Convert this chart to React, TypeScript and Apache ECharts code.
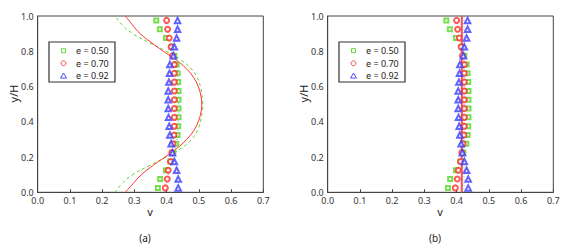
import React, { useEffect, useRef } from "react";
import * as echarts from "echarts";

// Measured points (both panels share them)
const yPoints = [0.025, 0.075, 0.125, 0.175, 0.225, 0.275, 0.325, 0.375, 0.425, 0.475, 0.525, 0.575, 0.625, 0.675, 0.725, 0.775, 0.825, 0.875, 0.925, 0.975];
const vE050 = [0.373, 0.380, 0.398, 0.412, 0.421, 0.430, 0.434, 0.436, 0.437, 0.437, 0.437, 0.437, 0.436, 0.434, 0.431, 0.424, 0.416, 0.398, 0.379, 0.368];
const vE070 = [0.396, 0.402, 0.405, 0.412, 0.416, 0.420, 0.423, 0.424, 0.424, 0.424, 0.424, 0.424, 0.424, 0.424, 0.424, 0.418, 0.414, 0.408, 0.403, 0.400];
const vE092 = [0.436, 0.436, 0.431, 0.424, 0.418, 0.414, 0.410, 0.408, 0.406, 0.405, 0.405, 0.405, 0.407, 0.409, 0.410, 0.421, 0.424, 0.431, 0.434, 0.434];

// Theory curves, panel (a)
const yCurve = [0, 0.05, 0.1, 0.15, 0.2, 0.25, 0.3, 0.35, 0.4, 0.45, 0.5, 0.55, 0.6, 0.65, 0.7, 0.75, 0.8, 0.85, 0.9, 0.95, 1.0];
const curveA050 = [0.240, 0.262, 0.295, 0.345, 0.398, 0.445, 0.477, 0.495, 0.505, 0.510, 0.512, 0.510, 0.505, 0.495, 0.477, 0.445, 0.398, 0.345, 0.295, 0.262, 0.240];
const curveA070 = [0.272, 0.296, 0.322, 0.356, 0.395, 0.432, 0.462, 0.484, 0.498, 0.506, 0.509, 0.506, 0.498, 0.484, 0.462, 0.430, 0.390, 0.352, 0.318, 0.294, 0.272];
const curveA092 = [0.396, 0.399, 0.405, 0.411, 0.418, 0.426, 0.432, 0.435, 0.436, 0.437, 0.437, 0.437, 0.436, 0.435, 0.432, 0.426, 0.418, 0.411, 0.405, 0.399, 0.396];

// Theory lines, panel (b)
const yLineB = [0, 1];
const lineB050 = [0.417, 0.417];
const lineB070 = [0.416, 0.416];
const lineB092 = [0.423, 0.423];

const legendNames = ["e = 0.50", "e = 0.70", "e = 0.92"];
const panelLabels = ["(a)", "(b)"];

const GREEN = "#55d622";
const RED = "#ff2e2e";
const BLUE = "#3b3bff";
const BLUE_LINE = "#7d8cff";
const FONT = "Noto Sans";

const pairs = (xs: number[], ys: number[]) => xs.map((x, i) => [x, ys[i]]);

export default function App() {
  const ref = useRef<HTMLDivElement>(null);
  useEffect(() => {
    if (!ref.current) return;
    const chart = echarts.init(ref.current, undefined, { renderer: "svg" });
    const gridW = 225.6;
    const lefts = [37.7, 327.7];
    const top = 16;
    const h = 176.3;

    const mkX = (gi: number) => ({
      type: "value",
      gridIndex: gi,
      min: 0,
      max: 0.7,
      interval: 0.1,
      axisLine: { show: true, lineStyle: { color: "#444", width: 1 } },
      axisTick: { show: true, inside: true, length: 3, lineStyle: { color: "#444" } },
      axisLabel: { color: "#333", fontSize: 9, fontFamily: FONT, margin: 4, formatter: (v: number) => v.toFixed(1) },
      splitLine: { show: false },
    });
    const mkY = (gi: number) => ({
      type: "value",
      gridIndex: gi,
      min: 0,
      max: 1,
      interval: 0.2,
      axisLine: { show: true, lineStyle: { color: "#444", width: 1 } },
      axisTick: { show: false },
      axisLabel: { color: "#333", fontSize: 9, fontFamily: FONT, margin: 4, formatter: (v: number) => v.toFixed(1) },
      splitLine: { show: false },
    });

    const scatter = (gi: number) => [
      { type: "scatter", name: legendNames[0], xAxisIndex: gi, yAxisIndex: gi, symbol: "emptyRect", symbolSize: 4, itemStyle: { color: GREEN, borderColor: GREEN, borderWidth: 0.9 }, data: pairs(vE050, yPoints), z: 5 },
      { type: "scatter", name: legendNames[1], xAxisIndex: gi, yAxisIndex: gi, symbol: "emptyCircle", symbolSize: 5, itemStyle: { color: RED, borderColor: RED, borderWidth: 0.9 }, data: pairs(vE070, yPoints), z: 5 },
      { type: "scatter", name: legendNames[2], xAxisIndex: gi, yAxisIndex: gi, symbol: "emptyTriangle", symbolSize: 5.5, itemStyle: { color: BLUE, borderColor: BLUE, borderWidth: 0.9 }, data: pairs(vE092, yPoints), z: 5 },
    ];
    const lineS = (gi: number, xs: number[], ys: number[], color: string, type: any, width: number, smooth: boolean) => ({
      type: "line",
      xAxisIndex: gi,
      yAxisIndex: gi,
      data: pairs(xs, ys),
      showSymbol: false,
      symbol: "none",
      smooth,
      lineStyle: { color, type, width },
      z: 3,
    });

    const legendGraphic = (ox: number) => {
      const bx = 49 + ox, by = 42;
      const mx = 63.5 + ox;
      const rows = [50.7, 63.3, 75.8];
      const els: any[] = [
        { type: "rect", shape: { x: bx, y: by, width: 66, height: 40 }, style: { fill: "#fff", stroke: "#333", lineWidth: 1.2 }, z: 20 },
        { type: "rect", shape: { x: mx - 2, y: rows[0] - 2, width: 4, height: 4 }, style: { fill: "none", stroke: GREEN, lineWidth: 0.9 }, z: 21 },
        { type: "circle", shape: { cx: mx, cy: rows[1], r: 2.4 }, style: { fill: "none", stroke: RED, lineWidth: 0.9 }, z: 21 },
        { type: "polygon", shape: { points: [[mx, rows[2] - 2.8], [mx + 2.9, rows[2] + 2.3], [mx - 2.9, rows[2] + 2.3]] }, style: { fill: "none", stroke: BLUE, lineWidth: 0.9 }, z: 21 },
      ];
      legendNames.forEach((n, i) => {
        els.push({ type: "text", x: 76 + ox, y: rows[i], style: { text: n, fill: "#222", font: `9px ${FONT}`, verticalAlign: "middle", align: "left" }, z: 21 });
      });
      return els;
    };

    const textEls = (ox: number, label: string) => [
      { type: "text", x: 13.3 + ox, y: 93.5, rotation: Math.PI / 2, style: { text: "y/H", fill: "#222", font: `11px ${FONT}`, align: "center", verticalAlign: "middle" } },
      { type: "text", x: 150 + ox, y: 211, style: { text: "v", fill: "#222", font: `11px ${FONT}`, align: "center", verticalAlign: "middle" } },
      { type: "text", x: 145 + ox, y: 237.5, style: { text: label, fill: "#222", font: `10px ${FONT}`, align: "center", verticalAlign: "middle" } },
    ];

    chart.setOption({
      animation: false,
      backgroundColor: "#fff",
      grid: lefts.map((l) => ({ left: l, top, width: gridW, height: h, show: true, borderColor: "#444", borderWidth: 1, backgroundColor: "transparent" })),
      xAxis: [mkX(0), mkX(1)],
      yAxis: [mkY(0), mkY(1)],
      series: [
        lineS(0, curveA050, yCurve, GREEN, [3, 3], 1, true),
        lineS(0, curveA070, yCurve, RED, "solid", 1, true),
        lineS(0, curveA092, yCurve, BLUE_LINE, [1, 2], 1, true),
        ...scatter(0),
        lineS(1, lineB050, yLineB, GREEN, [3, 3], 1, false),
        lineS(1, lineB070, yLineB, "#f25555", "solid", 2, false),
        lineS(1, lineB092, yLineB, BLUE_LINE, [1, 2], 1, false),
        ...scatter(1),
      ],
      graphic: [...legendGraphic(0), ...legendGraphic(290), ...textEls(0, panelLabels[0]), ...textEls(290, panelLabels[1])],
    });
    return () => chart.dispose();
  }, []);
  return <div ref={ref} style={{ position: "fixed", left: 0, top: 0, width: 581, height: 245 }} />;
}
